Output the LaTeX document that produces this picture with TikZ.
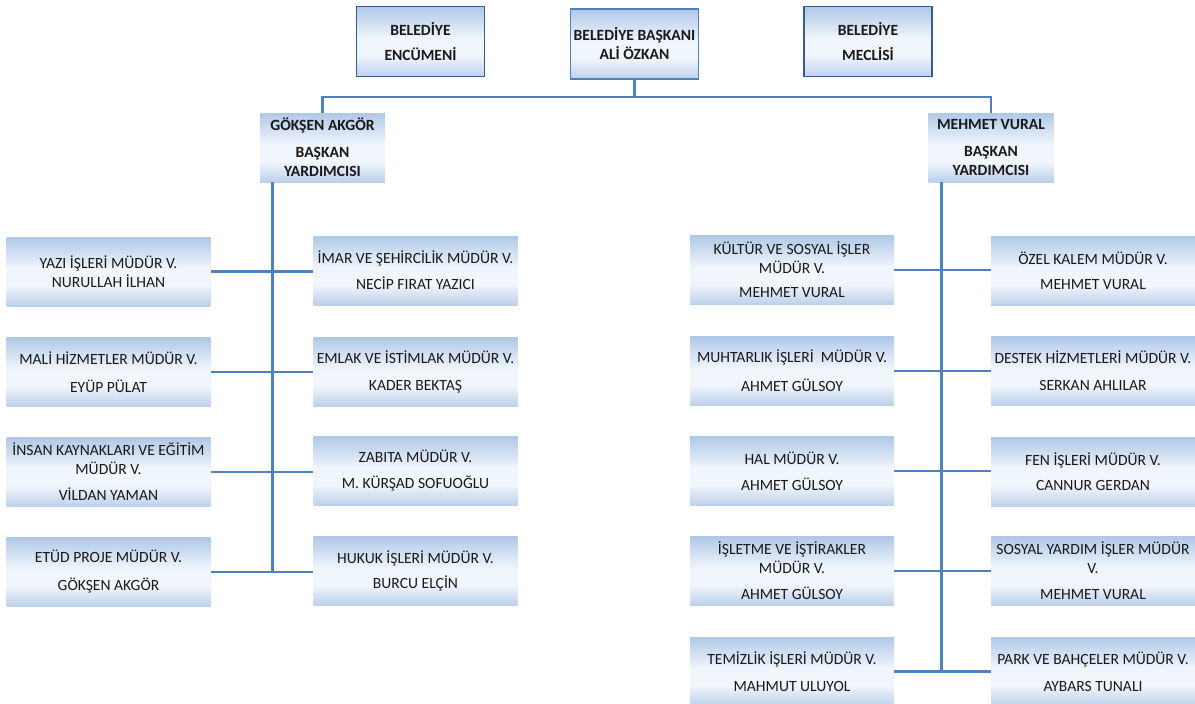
\documentclass[tikz,border=0pt]{standalone}
\usepackage{fontspec}
\setmainfont{Carlito}
\definecolor{lineblue}{RGB}{79,129,189}
\definecolor{darkborder}{RGB}{56,93,138}
\definecolor{shTop}{RGB}{176,200,231}
\definecolor{shMid}{RGB}{241,246,252}
\definecolor{shBot}{RGB}{188,208,235}
\definecolor{txt}{RGB}{25,25,25}
\pgfdeclareverticalshading{boxsh}{100bp}{color(0bp)=(shBot); color(25bp)=(shBot); color(40bp)=(shMid); color(52bp)=(shMid); color(75bp)=(shTop); color(100bp)=(shTop)}
\tikzset{
  box/.style={shading=boxsh, inner sep=0pt, text=txt, align=center,
    font=\fontsize{15.6}{19}\selectfont},
  dept/.style={box, minimum width=204pt, minimum height=69pt},
  topbox/.style={box, draw=darkborder, line width=1.8pt,
    font=\fontsize{15.6}{19}\selectfont\bfseries, minimum width=128pt, minimum height=70pt},
  vpbox/.style={box, font=\fontsize{15.6}{19}\selectfont\bfseries, minimum width=125pt, minimum height=69pt},
  conn/.style={draw=lineblue, line width=2.2pt},
  trunk/.style={draw=lineblue, line width=3pt}
}
\begin{document}
\begin{tikzpicture}[x=1pt,y=-1pt]
\fill[white] (0,0) rectangle (1195,704);
\useasboundingbox (0,0) rectangle (1195,704);
% top level
\node[topbox] (enc) at (420.5,41.5) {BELEDİYE\\[6pt]ENCÜMENİ};
\node[topbox, draw=lineblue] (bask) at (634.5,44) {BELEDİYE BAŞKANI\\ALİ ÖZKAN};
\node[topbox] (mec) at (868,41.5) {BELEDİYE\\[6pt]MECLİSİ};
% vice presidents
\node[vpbox] (vpL) at (322.5,147.5) {GÖKŞEN AKGÖR\\[8pt]BAŞKAN\\YARDIMCISI};
\node[vpbox] (vpR) at (991,147.5) {MEHMET VURAL\\[8pt]BAŞKAN\\YARDIMCISI};
\coordinate (hl) at (634.5,97);
\draw[conn] (vpL.north) -- (vpL.north |- hl) -- (vpR.north |- hl) -- (vpR.north);
\draw[conn] (bask.south) -- (bask.south |- hl);
% left departments
\node[dept] (yazi) at (108.5,271.5) {YAZI İŞLERİ MÜDÜR V.\\NURULLAH İLHAN};
\node[dept] (mali) at (108.5,372) {MALİ HİZMETLER MÜDÜR V.\\[9pt]EYÜP PÜLAT};
\node[dept] (insan) at (108.5,472) {İNSAN KAYNAKLARI VE EĞİTİM\\MÜDÜR V.\\[7pt]VİLDAN YAMAN};
\node[dept] (etud) at (108.5,572) {ETÜD PROJE MÜDÜR V.\\[9pt]GÖKŞEN AKGÖR};
\node[dept] (imar) at (415.5,270.5) {İMAR VE ŞEHİRCİLİK MÜDÜR V.\\[7pt]NECİP FIRAT YAZICI};
\node[dept] (emlak) at (415.5,372) {EMLAK VE İSTİMLAK MÜDÜR V.\\[8pt]KADER BEKTAŞ};
\node[dept] (zabita) at (415.5,471) {ZABITA MÜDÜR V.\\[7pt]M. KÜRŞAD SOFUOĞLU};
\node[dept] (hukuk) at (415.5,571) {HUKUK İŞLERİ MÜDÜR V.\\[6pt]BURCU ELÇİN};
\coordinate (tL) at (272,182);
\draw[trunk] (tL) -- (tL |- etud.east);
\foreach \a/\b in {yazi/imar, mali/emlak, insan/zabita, etud/hukuk}
  \draw[conn] (\a.east) -- (\b.west |- \a.east);
% right departments
\node[dept] (kultur) at (792,270) {KÜLTÜR VE SOSYAL İŞLER\\MÜDÜR V.\\[5pt]MEHMET VURAL};
\node[dept] (muhtar) at (792,371) {MUHTARLIK İŞLERİ\ \ MÜDÜR V.\\[10pt]AHMET GÜLSOY};
\node[dept] (hal) at (792,471) {HAL MÜDÜR V.\\[7pt]AHMET GÜLSOY};
\node[dept] (islet) at (792,571) {İŞLETME VE İŞTİRAKLER\\MÜDÜR V.\\[7pt]AHMET GÜLSOY};
\node[dept] (temiz) at (792,671.5) {TEMİZLİK İŞLERİ MÜDÜR V.\\[8pt]MAHMUT ULUYOL};
\node[dept] (ozel) at (1093,271) {ÖZEL KALEM MÜDÜR V.\\[6pt]MEHMET VURAL};
\node[dept] (destek) at (1093,371) {DESTEK HİZMETLERİ MÜDÜR V.\\[8pt]SERKAN AHLILAR};
\node[dept] (fen) at (1093,472) {FEN İŞLERİ MÜDÜR V.\\[6pt]CANNUR GERDAN};
\node[dept] (sosyal) at (1093,571) {SOSYAL YARDIM İŞLER MÜDÜR\\V.\\[7pt]MEHMET VURAL};
\node[dept] (park) at (1093,671.5) {PARK VE BAHÇELER MÜDÜR V.\\[8pt]AYBARS TUNALI};
\coordinate (tR) at (941,182);
\draw[trunk] (tR) -- (tR |- temiz.east);
\foreach \a/\b in {kultur/ozel, muhtar/destek, hal/fen, islet/sosyal, temiz/park}
  \draw[conn] (\a.east) -- (\b.west |- \a.east);
\end{tikzpicture}
\end{document}
